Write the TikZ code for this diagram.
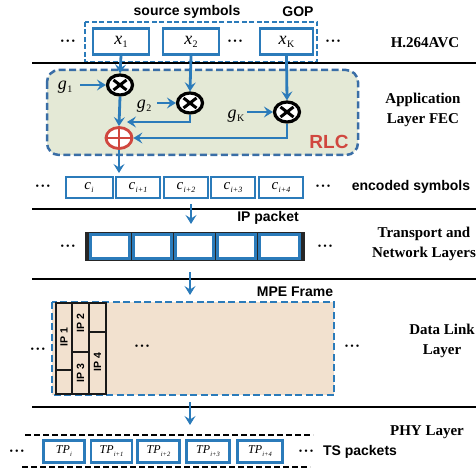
\documentclass[tikz,border=0pt]{standalone}
\usepackage{fontspec}
\setmainfont{Liberation Serif}
\setsansfont{Liberation Sans}
\usetikzlibrary{arrows.meta,shapes.geometric,calc}
\definecolor{bl}{HTML}{2B7BBA}
\definecolor{dbl}{HTML}{3A6EA6}
\definecolor{rlcfill}{HTML}{E4E9D6}
\definecolor{peach}{HTML}{F2E1CF}
\definecolor{rd}{HTML}{D0473F}
\newcommand{\mydots}{\textbullet\kern2pt\textbullet\kern2pt\textbullet}
\begin{document}
\begin{tikzpicture}[x=1pt,y=-1pt,
  sbox/.style={draw=bl,line width=2.8pt,fill=white,minimum height=26pt,inner sep=0pt},
  cbox/.style={draw=bl,line width=2pt,fill=white,minimum height=21pt,inner sep=0pt},
  tpbox/.style={draw=bl,line width=2.8pt,fill=white,minimum height=22pt,inner sep=0pt},
  arr/.style={draw=bl,line width=2.8pt,-{Stealth[length=9pt,width=11pt,inset=3.5pt]}},
  sep/.style={line width=1.9pt,black},
  dts/.style={font=\fontsize{10}{10}\selectfont,inner sep=0pt},
  lay/.style={font=\fontsize{15}{20}\selectfont\bfseries,align=center},
  sb/.style={font=\sffamily\bfseries\fontsize{14}{16}\selectfont},
  mathx/.style={font=\fontsize{18}{18}\selectfont},
  mul/.style={ellipse,draw=black,line width=3.2pt,fill=white,minimum width=25pt,minimum height=20pt,inner sep=0pt},
]
\useasboundingbox (0,0) rectangle (476,470);

% separator lines
\coordinate (l1a) at (32,63);  \coordinate (l1b) at (476,63);
\coordinate (l2a) at (32,209); \coordinate (l2b) at (476,209);
\coordinate (l3a) at (32,279); \coordinate (l3b) at (476,279);
\coordinate (l4a) at (32,407); \coordinate (l4b) at (476,407);

% RLC box
\draw[draw=dbl,fill=rlcfill,line width=2.5pt,dash pattern=on 7pt off 3.5pt,rounded corners=12pt] (47,70) rectangle (358,155);
\node[font=\sffamily\bfseries\fontsize{19}{19}\selectfont,text=rd] (rlc) at (329,142) {RLC};

% GOP dashed box
\draw[draw=bl,line width=1.8pt,dash pattern=on 5pt off 2.5pt] (85,22) rectangle (317,62);
\node[sb] (src) at (187,12) {source symbols};
\node[sb] (gop) at (298,12) {GOP};

% source symbols
\node[sbox,minimum width=56pt] (x1) at (121,41.5) {};
\node[mathx] at (x1) {\itshape x\kern0.5pt\raisebox{-3pt}{\fontsize{10}{10}\selectfont\upshape 1}};
\node[sbox,minimum width=56pt] (x2) at (191,41.5) {};
\node[mathx] at (x2) {\itshape x\kern0.5pt\raisebox{-3pt}{\fontsize{10}{10}\selectfont\upshape 2}};
\node[sbox,minimum width=53pt] (xk) at (286.5,41.5) {};
\node[mathx] at (xk) {\itshape x\kern0.5pt\raisebox{-3pt}{\fontsize{10}{10}\selectfont\upshape K}};
\node[dts] (d1) at (68,42) {\mydots};
\node[dts] (d2) at (235,42) {\mydots};
\node[dts] (d3) at (333,42) {\mydots};
\node[lay] (h264) at (425,43) {H.264AVC};

\draw[sep] (l1a) -- (l1b);

% multipliers
\node[mul] (m1) at (120,85) {};
\node[mul] (m2) at (190,103) {};
\node[mul] (mk) at (287,112) {};
\foreach \m in {m1,m2,mk}{
  \draw[black,line width=3pt] ($(\m)+(-6.5,-5)$) -- ($(\m)+(6.5,5)$);
  \draw[black,line width=3pt] ($(\m)+(-6.5,5)$) -- ($(\m)+(6.5,-5)$);
}
\node[ellipse,draw=rd,line width=2.8pt,fill=white,minimum width=26pt,minimum height=21pt,inner sep=0pt] (p) at (119,138) {};
\draw[rd,line width=1.5pt] (p.north) -- (p.south) (p.west) -- (p.east);

\node[mathx] (g1) at (65,87) {\itshape g\kern0.5pt\raisebox{-3pt}{\fontsize{10}{10}\selectfont\upshape 1}};
\node[mathx] (g2) at (144,106) {\itshape g\kern0.5pt\raisebox{-3pt}{\fontsize{10}{10}\selectfont\upshape 2}};
\node[mathx] (gk) at (236,116) {\itshape g\kern0.5pt\raisebox{-3pt}{\fontsize{10}{10}\selectfont\upshape K}};

\draw[arr] (x1.south) -- (m1.north);
\draw[arr] (x2.south) -- (m2.north);
\draw[arr] (xk.south) -- (mk.north);
\draw[arr] (80,85) -- (m1.west);
\draw[arr] (157,103) -- (m2.west);
\draw[arr] (247,112) -- (mk.west);
\draw[arr] (m1.south) -- (p.north);
\coordinate (j2) at (127,122);
\draw[arr] (m2.south) |- (j2);
\draw[arr] (mk.south) |- (p.east);
\coordinate (c0) at (119,173);
\draw[arr] (p.south) -- (c0);

\node[lay] (alf) at (423,110) {Application\\Layer FEC};

% encoded symbols
\node[cbox,minimum width=47pt] (c1) at (89,187.5) {};
\node[cbox,minimum width=44pt] (c2) at (138,187.5) {};
\node[cbox,minimum width=44pt] (c3) at (186,187.5) {};
\node[cbox,minimum width=44pt] (c4) at (233,187.5) {};
\node[cbox,minimum width=44pt] (c5) at (281,187.5) {};
\foreach \n/\s in {c1/i,c2/i+1,c3/i+2,c4/i+3,c5/i+4}{
  \node[font=\fontsize{15}{15}\selectfont] at (\n) {\itshape c\kern0.3pt\raisebox{-3pt}{\fontsize{8}{8}\selectfont\itshape \s}};
}
\node[dts] (d4) at (43,187) {\mydots};
\node[dts] (d5) at (323,187) {\mydots};
\node[sb] (enc) at (411,187) {encoded symbols};

\draw[sep] (l2a) -- (l2b);
\coordinate (a1s) at (191,204); \coordinate (a1e) at (191,224);
\draw[arr] (a1s) -- (a1e);
\node[sb] (ipp) at (268,218) {IP packet};

% IP packet
\fill[black!85] (85,232) rectangle (305,261);
\foreach \i/\xa/\xb in {1/89/131,2/132/173,3/174/215,4/216/257,5/258/301}{
  \draw[draw=bl,line width=2.6pt,fill=white] (\xa+1.3,234.3) rectangle (\xb-1.3,258.7);
}
\node[dts] (d6) at (68,247) {\mydots};
\node[dts] (d7) at (325,247) {\mydots};
\node[lay] (tnl) at (424,244) {Transport and\\Network Layers};

\draw[sep] (l3a) -- (l3b);
\coordinate (a2s) at (190,272); \coordinate (a2e) at (190,295);
\draw[arr] (a2s) -- (a2e);
\node[sb] (mpe) at (295,292) {MPE Frame};

% MPE frame
\draw[draw=bl,fill=peach,line width=2.3pt,dash pattern=on 7pt off 3.5pt] (52,302) rectangle (334,395);
\begin{scope}[line width=2.4pt,draw=black!90]
\draw (56,303) rectangle (72,370);
\draw (56,370) rectangle (72,394);
\draw (72,303) rectangle (89,352);
\draw (72,352) rectangle (89,394);
\draw (89,303) rectangle (106,332);
\draw (89,332) rectangle (106,394);
\end{scope}
\node[rotate=90,font=\sffamily\bfseries\fontsize{10.5}{10.5}\selectfont] (ip1) at (64,337) {IP 1};
\node[rotate=90,font=\sffamily\bfseries\fontsize{10.5}{10.5}\selectfont] (ip2) at (80.5,323) {IP 2};
\node[rotate=90,font=\sffamily\bfseries\fontsize{10.5}{10.5}\selectfont] (ip3) at (80.5,373) {IP 3};
\node[rotate=90,font=\sffamily\bfseries\fontsize{10.5}{10.5}\selectfont] (ip4) at (97.5,362) {IP 4};
\node[dts] (d8) at (142,347) {\mydots};
\node[dts] (d9) at (38,350) {\mydots};
\node[dts] (d10) at (352,347) {\mydots};
\node[lay] (dll) at (442,341) {Data Link\\Layer};

\draw[sep] (l4a) -- (l4b);
\coordinate (a3s) at (190,402); \coordinate (a3e) at (190,425);
\draw[arr] (a3s) -- (a3e);
\node[lay] (phy) at (427,432) {PHY Layer};

% TS packets
\coordinate (t1a) at (25,435); \coordinate (t1b) at (313,435);
\coordinate (t2a) at (22,467); \coordinate (t2b) at (310,467);
\draw[black,line width=1.8pt,dash pattern=on 6pt off 3pt] (t1a) -- (t1b);
\draw[black,line width=1.8pt,dash pattern=on 6pt off 3pt] (t2a) -- (t2b);
\node[tpbox,minimum width=41pt] (tp1) at (64,451.5) {};
\node[tpbox,minimum width=41pt] (tp2) at (111.5,451.5) {};
\node[tpbox,minimum width=42pt] (tp3) at (158.5,451.5) {};
\node[tpbox,minimum width=43pt] (tp4) at (208,451.5) {};
\node[tpbox,minimum width=45pt] (tp5) at (260,451.5) {};
\foreach \n/\s in {tp1/i,tp2/i+1,tp3/i+2,tp4/i+3,tp5/i+4}{
  \node[font=\fontsize{12}{12}\selectfont] at (\n) {\itshape TP\kern0.3pt\raisebox{-3pt}{\fontsize{6.5}{6.5}\selectfont\itshape \s}};
}
\node[dts] (d11) at (17,452) {\mydots};
\node[dts] (d12) at (306,452) {\mydots};
\node[sb] (tsp) at (360,452) {TS packets};
\end{tikzpicture}
\end{document}
